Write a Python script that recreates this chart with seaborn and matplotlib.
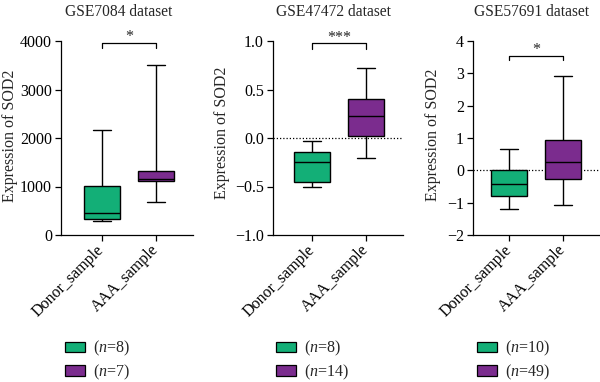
import matplotlib
matplotlib.use("Agg")
import matplotlib.pyplot as plt
import matplotlib.transforms as mtransforms
from matplotlib.patches import Patch
import seaborn as sns
import pandas as pd

# ---------------- data ----------------
groups = ["Donor_sample", "AAA_sample"]
titles = ["GSE7084 dataset", "GSE47472 dataset", "GSE57691 dataset"]
# five-number summaries (min, Q1, median, Q3, max)
gse7084_donor = [290, 330, 460, 1020, 2170]
gse7084_aaa = [690, 1110, 1155, 1326, 3500]
gse47472_donor = [-0.51, -0.455, -0.25, -0.14, -0.035]
gse47472_aaa = [-0.207, 0.017, 0.224, 0.403, 0.724]
gse57691_donor = [-1.19, -0.80, -0.41, 0.01, 0.65]
gse57691_aaa = [-1.08, -0.28, 0.26, 0.93, 2.91]
n_counts = [[8, 7], [8, 14], [10, 49]]
stars = ["*", "***", "*"]
yticks_list = [[0, 1000, 2000, 3000, 4000],
               [-1.0, -0.5, 0.0, 0.5, 1.0],
               [-2, -1, 0, 1, 2, 3, 4]]
ylims = [(0, 4000), (-1.0, 1.0), (-2, 4)]
bracket_y = [(3965, 3862), (0.976, 0.914), (3.54, 3.41)]

colors = ["#13AF77", "#7B2C8E"]

panels = [
    (gse7084_donor, gse7084_aaa),
    (gse47472_donor, gse47472_aaa),
    (gse57691_donor, gse57691_aaa),
]

# ---------------- style ----------------
sns.set_theme(style="ticks")
plt.rcParams["font.family"] = ["Liberation Serif", "DejaVu Serif"]
plt.rcParams["mathtext.fontset"] = "custom"
plt.rcParams["mathtext.rm"] = "Liberation Serif"
plt.rcParams["mathtext.it"] = "Liberation Serif:italic"
FS = 11.5

W, H = 600, 382
fig = plt.figure(figsize=(W / 100, H / 100), dpi=100)

# pixel layout
ax_left = [61, 273, 473]
ax_width = [132, 130, 127]
ax_top, ax_bottom = 41, 235
xlims = [(-0.754, 1.69), (-0.722, 1.685), (-0.667, 1.685)]
title_x = [119, 333.5, 532]
ylabel_pos = [(10, 136), (222, 133), (433, 135)]
leg_x = [65, 276, 477]

for i, (donor, aaa) in enumerate(panels):
    ax = fig.add_axes([ax_left[i] / W, 1 - ax_bottom / H,
                       ax_width[i] / W, (ax_bottom - ax_top) / H])
    df = pd.DataFrame({
        "group": [groups[0]] * len(donor) + [groups[1]] * len(aaa),
        "value": list(donor) + list(aaa),
    })
    if i > 0:
        ax.axhline(0, color="black", lw=0.9, ls=(0, (1, 1.6)), zorder=0,
                   clip_on=False)
    sns.boxplot(data=df, x="group", y="value", hue="group", order=groups,
                hue_order=groups, palette=colors, saturation=1, width=0.67,
                whis=(0, 100), linecolor="black", linewidth=1.0,
                legend=False, ax=ax)
    ax.set_xlim(*xlims[i])
    ax.set_ylim(*ylims[i])
    ax.set_yticks(yticks_list[i])
    if i == 1:
        ax.set_yticklabels([f"{v:.1f}".replace("-", "\u2212") for v in yticks_list[i]])
    else:
        ax.set_yticklabels([f"{v}".replace("-", "\u2212") for v in yticks_list[i]])
    ax.set_xlabel("")
    ax.set_ylabel("")
    for s in ["top", "right"]:
        ax.spines[s].set_visible(False)
    for s in ["left", "bottom"]:
        ax.spines[s].set_linewidth(0.9)
        ax.spines[s].set_color("black")
    ax.tick_params(axis="both", colors="black", width=0.9, length=4.5,
                   labelsize=FS, direction="out")
    ax.tick_params(axis="y", pad=2)
    ax.tick_params(axis="x", pad=4.5)
    for lab in ax.get_xticklabels():
        lab.set_rotation(45)
        lab.set_ha("right")
        lab.set_va("center")
        lab.set_rotation_mode("anchor")
        lab.set_fontsize(FS)

    # significance bracket
    y_top, y_drop = bracket_y[i]
    ax.plot([0, 0, 1, 1], [y_drop, y_top, y_top, y_drop], color="black",
            lw=0.9, clip_on=False)
    tr = mtransforms.offset_copy(ax.transData, fig=fig, y=1.5, units="dots")
    ax.text(0.5, y_top, stars[i], transform=tr, ha="center", va="baseline",
            fontsize=FS)

    # title and y label
    fig.text(title_x[i] / W, 1 - 12 / H, titles[i], ha="center", va="center",
             fontsize=11.2)
    fig.text(ylabel_pos[i][0] / W, 1 - ylabel_pos[i][1] / H,
             "Expression of SOD2", rotation=90, ha="center", va="center",
             fontsize=FS)

    # legend
    handles = [Patch(facecolor=colors[k], edgecolor="black", lw=0.9)
               for k in range(2)]
    labels = [rf"($\mathit{{n}}$={n_counts[i][k]})" for k in range(2)]
    fig.legend(handles, labels, loc="upper left",
               bbox_to_anchor=(leg_x[i] / W, 1 - 339 / H),
               bbox_transform=fig.transFigure, frameon=False, fontsize=FS,
               handlelength=1.25, handleheight=0.62, handletextpad=0.5,
               labelspacing=0.27, borderpad=0, borderaxespad=0)

fig.savefig("out.png", dpi=100)
